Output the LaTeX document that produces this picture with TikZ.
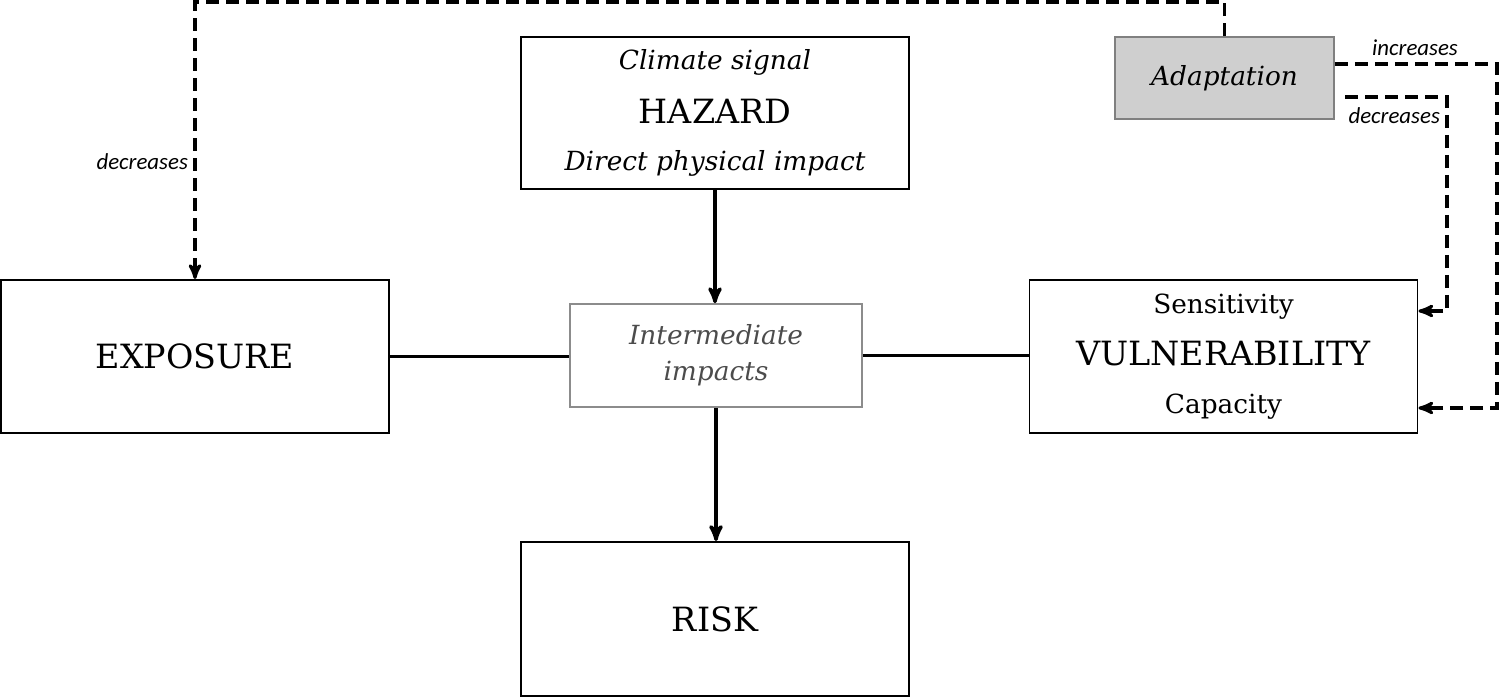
\documentclass[tikz,border=0pt]{standalone}
\usepackage{fontspec}
\setmainfont{DejaVu Serif}
\newfontfamily\notefont{Carlito}
\usetikzlibrary{arrows,positioning}
\newcommand{\bigword}[1]{{\fontsize{19}{22}\selectfont #1}}
\newcommand{\subline}[1]{{\itshape\fontsize{15}{18}\selectfont #1}}
\newcommand{\plainline}[1]{{\fontsize{15}{18}\selectfont #1}}
\tikzset{
    %Define standard arrow tip
    >=stealth',
    box/.style={
      rectangle,
      draw=black, line width=1.1pt,
      minimum width=7.76cm,
      minimum height=3.06cm,
      align=center},
    softbox/.style={
      rectangle,
      draw=black!45, line width=0.9pt,
      text=black!70,
      minimum width=5.84cm,
      minimum height=2.06cm,
      align=center},
    adaptbox/.style={
      rectangle,
      draw=black!50, fill=black!19, line width=1pt,
      minimum width=4.38cm,
      minimum height=1.64cm},
    link/.style={line width=2pt},
    feedback/.style={line width=1.8pt, dash pattern=on 0.26cm off 0.14cm},
    note/.style={font=\notefont\itshape\fontsize{13}{15}\selectfont, inner sep=1pt},
}
\begin{document}
\begin{tikzpicture}
    \useasboundingbox (0,0) rectangle (30,13.94);
    \node (haz) [box, minimum height=3.04cm] at (14.3,11.68)
          {\subline{Climate signal}\\[0.45cm]
           \bigword{HAZARD}\\[0.52cm]
           \subline{Direct physical impact}};
    \node (inter) [softbox] at (14.32,6.83)
          {\subline{Intermediate}\\[0.3cm] \subline{impacts}};
    \node (risk) [box, minimum height=3.08cm] at (14.3,1.56)
          {\bigword{RISK}};
    \node (expo) [box] at (3.9,6.81)
          {\bigword{EXPOSURE}};
    \node (vuln) [box] at (24.47,6.81)
          {\plainline{Sensitivity}\\[0.4cm]
           \bigword{VULNERABILITY}\\[0.55cm]
           \plainline{Capacity}};
    \node (adapt) [adaptbox] at (24.49,12.38)
          {\subline{Adaptation}};

    % main chain
    \draw [link,->] (haz.south) -- (haz.south |- inter.north);
    \draw [link,->] (inter.south) -- (inter.south |- risk.north);
    \draw [link] (expo.east) -- (expo.east -| inter.west);
    \draw [link] (inter.east) -- (inter.east -| vuln.west);

    % adaptation feedback
    \coordinate (top) at (14.3,13.9);
    \coordinate (incA) at (29.94,12.66);
    \coordinate (incB) at (29.94,5.78);
    \coordinate (decS) at (26.9,12.0);
    \coordinate (decA) at (28.94,12.0);
    \coordinate (decB) at (28.94,7.72);
    \draw [feedback,->] (adapt.north) |- (top) -| (expo.north);
    \draw [feedback,->] (adapt.east |- incA) -- (incA) -- (incB) -- (vuln.east |- incB);
    \draw [feedback,->] (decS) -- (decA) -- (decB) -- (vuln.east |- decB);

    \node (decL) [note, anchor=east] at (3.8,10.7) {decreases};
    \node (incL) [note] at (28.3,12.98) {increases};
    \node (decR) [note, anchor=east] at (28.84,11.62) {decreases};
\end{tikzpicture}
\end{document}
